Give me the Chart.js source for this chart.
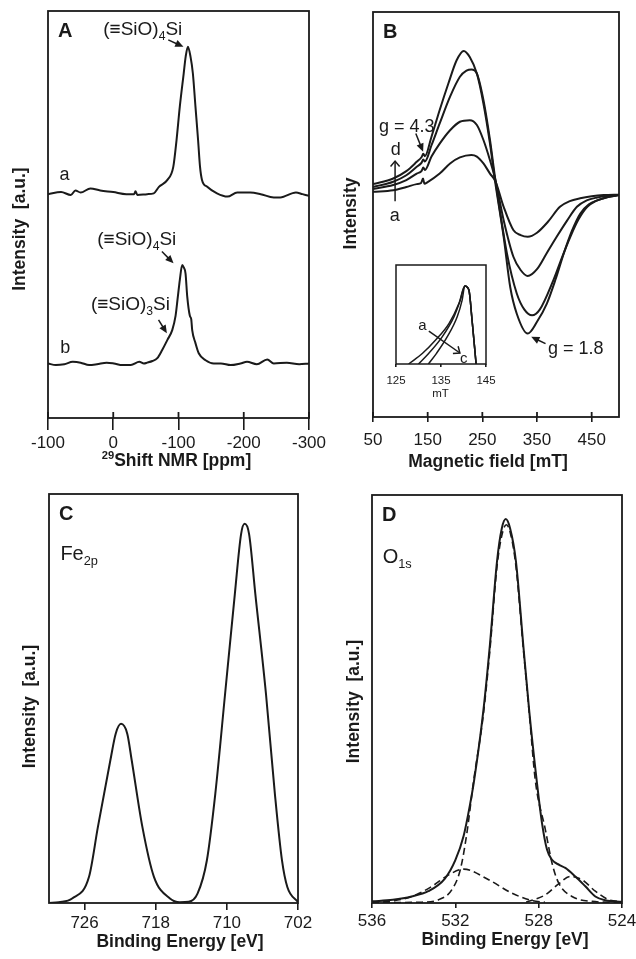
<!DOCTYPE html>
<html>
<head>
<meta charset="utf-8">
<script src="https://cdn.jsdelivr.net/npm/chart.js@4.4.1/dist/chart.umd.min.js"></script>
<style>
  html, body { margin: 0; padding: 0; background: #fff; }
  #fig { position: relative; width: 636px; height: 959px; overflow: hidden; }
  canvas { position: absolute; }
</style>
</head>
<body>
<div id="fig">
  <canvas id="pa" width="345" height="480" style="left:0;top:0"></canvas>
  <canvas id="pb" width="318" height="480" style="left:318px;top:0"></canvas>
  <canvas id="pins" width="130" height="150" style="left:380px;top:255px"></canvas>
  <canvas id="pc" width="318" height="479" style="left:0;top:480px"></canvas>
  <canvas id="pd" width="318" height="479" style="left:318px;top:480px"></canvas>
</div>
<script>
// ---- data ----
// A: 29Si NMR, two traces (a, b), shift in ppm (axis runs 100 -> -300)
const A_TICKS = [100, 0, -100, -200, -300];
const A_TICK_LABELS = ['-100', '0', '-100', '-200', '-300'];
const A_PPM_A = [100, 80, 65, 58, 50, 35, 20, 0, -20, -32, -34, -37, -52, -62, -70, -83, -92, -97, -102, -108,
  -111, -114.4, -118.4, -122, -126, -130, -133, -136, -144, -159, -175, -190, -210, -226, -246, -256, -280, -290, -300];
const A_INT_A = [55.0, 55.5, 54.8, 55.9, 55.4, 56.4, 55.9, 55.5, 55.0, 55.0, 55.7, 54.8, 55.0, 55.2, 56.8, 58.5, 61.7, 68.3, 76.5, 84.7,
  88.8, 91.2, 88.8, 84.7, 76.5, 68.3, 61.7, 58.5, 56.8, 55.2, 54.4, 55.4, 55.4, 55.0, 54.2, 54.2, 55.4, 55.0, 54.6];
const A_PPM_B = [100, 88, 75, 62, 50, 37, 25, 10, -1, -14, -27, -40, -47, -52, -60, -67.5, -75, -83, -90.4, -95.5,
  -99, -102, -105.7, -108, -110.8, -113.4, -117.4, -119.5, -121, -126, -131, -141.5, -154, -165, -180, -195, -205, -220, -236, -246,
  -266, -285, -300];
const A_INT_B = [13.4, 13.0, 13.2, 13.8, 13.6, 13.0, 13.2, 13.6, 13.4, 13.0, 13.0, 13.8, 13.4, 13.6, 14.0, 14.7, 16.7, 19.2, 21.6, 25.1,
  29.8, 33.9, 37.6, 37.0, 35.5, 29.8, 25.1, 24.3, 21.6, 18.4, 15.9, 14.2, 13.4, 13.4, 13.0, 13.4, 13.8, 13.2, 14.4, 13.4,
  13.6, 13.2, 13.4];

// B: EPR spectra a..d, magnetic field in mT
const B_TICKS = [50, 150, 250, 350, 450];
const B_FIELD_A = [50, 87, 111, 130, 138, 141.5, 144, 150, 172, 191, 209, 230, 240, 252, 264, 274, 289, 307, 320, 333, 350, 370, 392, 410, 429, 450, 472, 500];
const B_INT_A = [55.6, 56.0, 56.8, 57.5, 57.8, 58.9, 57.6, 58.0, 60.1, 62.6, 64.1, 64.7, 64.3, 62.6, 60.1, 58.2, 51.9, 46.1, 44.9, 44.5, 45.5, 48.2, 51.9, 53.3, 54.0, 54.5, 54.8, 54.9];
const B_FIELD_B = [50, 87, 111, 130, 139, 142, 145, 157, 172, 191, 209, 227, 240, 252, 264, 274, 289, 307, 320, 333, 350, 368, 386, 405, 423, 441, 460, 480, 500];
const B_INT_B = [56.3, 57.3, 58.5, 60.1, 60.8, 61.6, 61.0, 64.3, 67.5, 70.8, 72.9, 73.3, 72.1, 68.4, 63.4, 58.5, 48.6, 39.5, 36.3, 34.8, 36.5, 40.5, 44.5, 48.5, 51.9, 53.5, 54.2, 54.6, 54.8];
const B_FIELD_C = [50, 87, 111, 130, 139, 142, 145, 157, 172, 191, 209, 221, 230, 240, 252, 264, 274, 295, 313, 327, 341, 355, 380, 396, 411, 426, 442, 457, 472, 486, 500];
const B_INT_C = [56.8, 58.1, 59.7, 61.8, 62.8, 63.6, 63.1, 67.1, 72.5, 79.1, 84.0, 85.5, 85.8, 84.8, 78.3, 68.4, 58.4, 40.4, 30.5, 26.5, 25.1, 26.5, 33.8, 39.5, 44.5, 48.8, 51.9, 53.3, 54.0, 54.5, 54.8];
const B_FIELD_D = [50, 87, 111, 130, 139, 142, 145, 157, 172, 188, 203, 216, 227, 240, 252, 264, 273, 289, 301, 313, 333, 350, 368, 384, 399, 414, 429, 445, 460, 480, 500];
const B_INT_D = [57.5, 58.9, 60.7, 63.0, 64.2, 65.0, 64.4, 69.2, 75.8, 82.4, 88.1, 90.4, 88.9, 84.8, 77.4, 67.5, 58.5, 44.5, 32.1, 25.5, 20.6, 23.5, 28.0, 34.0, 40.4, 46.0, 50.2, 52.5, 53.5, 54.3, 54.8];

// B inset: zoom on the g = 4.3 line
const INSET_TICKS = [125, 135, 145];
const INSET_FIELD_A = [127.8, 130.9, 133.8, 136.8, 139.0, 140.3, 141.2, 141.9, 142.8];
const INSET_INT_A = [0, 10.8, 24.2, 41.1, 61.3, 78.8, 74.7, 44.4, 0];
const INSET_FIELD_B = [130.0, 132.3, 135.3, 137.9, 139.3, 140.3, 141.2, 141.9, 142.8];
const INSET_INT_B = [0, 10.8, 27.6, 47.8, 64.6, 78.8, 74.7, 44.4, 0];
const INSET_FIELD_C = [132.2, 134.0, 136.4, 138.6, 139.7, 140.3, 141.2, 141.9, 142.8];
const INSET_INT_C = [0, 10.8, 27.6, 47.8, 64.6, 78.8, 74.7, 44.4, 0];

// C: XPS Fe 2p, binding energy in eV
const C_TICKS = [726, 718, 710, 702];
const C_BE = [730, 728.9, 727.4, 725.5, 724.5, 723.1, 722.5, 721.9, 721.2, 720.7, 719.5, 718.2, 716.4, 715.3, 714.3,
  713.3, 712.25, 711.3, 710.2, 709.1, 708.4, 708.0, 707.5, 706.8, 705.6, 704.6, 703.8, 703.2, 702];
const C_INT = [0, 0.2, 1.1, 6.4, 18.6, 34.9, 41.4, 43.8, 41.4, 34.9, 18.6, 6.4, 1.1, 0.2, 0.3,
  2.3, 10.4, 26.7, 51.1, 75.6, 90.2, 92.7, 90.2, 75.6, 51.1, 26.7, 10.4, 3.9, 0.2];

// D: XPS O 1s, envelope + three fitted components
const D_TICKS = [536, 532, 528, 524];
const D_BE = [536.0, 535.0, 534.1, 533.3, 532.5, 532.0, 531.6, 531.3, 531.1, 530.66, 530.34, 530.0, 529.77, 529.58, 529.37,
  529.09, 528.74, 528.45, 528.09, 527.84, 527.6, 527.36, 527.0, 526.72, 526.24, 525.76, 525.28, 524.8, 524.0];
const D_INT = [0.4, 0.8, 1.6, 2.9, 6.0, 10.5, 16.5, 24.0, 30.0, 46.9, 63.3, 83.7, 91.8, 94.1, 91.8,
  83.7, 63.3, 46.9, 29.8, 19.6, 13.1, 10.6, 9.3, 8.6, 6.5, 4.1, 1.6, 0.65, 0.3];
const D_MAIN_BE = [536.0, 533.6, 532.8, 532.16, 531.76, 531.45, 531.12, 530.66, 530.34, 530.0, 529.75, 529.55,
  529.35, 529.09, 528.74, 528.45, 528.16, 527.68, 527.36, 527.04, 526.4, 525.44, 524.0];
const D_MAIN_INT = [0.1, 0.2, 0.8, 3.3, 8.2, 17.0, 30.0, 46.0, 62.0, 82.5, 90.5, 92.7,
  90.5, 82.5, 62.5, 46.5, 30.0, 18.0, 9.8, 4.9, 1.6, 0.4, 0.1];
const D_LOW_BE = [536.0, 535.2, 534.08, 533.12, 532.32, 531.6, 530.4, 529.28, 528.32, 527.7];
const D_LOW_INT = [0.1, 0.4, 1.6, 4.1, 6.9, 8.3, 5.7, 2.4, 0.6, 0.2];
const D_HIGH_BE = [528.6, 528.32, 527.68, 527.04, 526.48, 525.92, 525.28, 524.64, 524.0];
const D_HIGH_INT = [0.2, 0.65, 2.0, 4.7, 6.5, 5.7, 2.9, 0.8, 0.3];

// ---- drawing ----
const INK = '#1a1a1a';
const FONT = '"Liberation Sans", Arial, sans-serif';

const pts = (xs, ys) => xs.map((x, i) => ({x, y: ys[i]}));
const line = (xs, ys, extra) => Object.assign({data: pts(xs, ys)}, extra || {});

// text with sub/superscript pieces: parts = [[text, ''|'sub'|'sup'], ...]
function drawRich(ctx, parts, x, y, size, weight, align) {
  const seg = parts.map(([t, k]) => {
    const s = k ? size * 0.64 : size;
    ctx.font = `${weight} ${s}px ${FONT}`;
    return {t, k, s, w: ctx.measureText(t).width};
  });
  const total = seg.reduce((n, p) => n + p.w, 0);
  let cx = align === 'center' ? x - total / 2 : x;
  ctx.textAlign = 'left';
  ctx.textBaseline = 'alphabetic';
  seg.forEach(p => {
    ctx.font = `${weight} ${p.s}px ${FONT}`;
    const dy = p.k === 'sub' ? size * 0.24 : p.k === 'sup' ? -size * 0.38 : 0;
    ctx.fillText(p.t, cx, y + dy);
    cx += p.w;
  });
}

function arrow(ctx, x1, y1, x2, y2, open) {
  const ang = Math.atan2(y2 - y1, x2 - x1);
  const L = open ? 7 : 9, W = open ? 0.7 : 0.42;
  ctx.beginPath();
  ctx.moveTo(x1, y1);
  ctx.lineTo(open ? x2 : x2 - Math.cos(ang) * L * 0.7, open ? y2 : y2 - Math.sin(ang) * L * 0.7);
  ctx.stroke();
  ctx.beginPath();
  ctx.moveTo(x2 - L * Math.cos(ang - W), y2 - L * Math.sin(ang - W));
  ctx.lineTo(x2, y2);
  ctx.lineTo(x2 - L * Math.cos(ang + W), y2 - L * Math.sin(ang + W));
  if (open) ctx.stroke(); else { ctx.closePath(); ctx.fill(); }
}

const decor = {
  id: 'decor',
  beforeDraw(chart, args, o) {
    if (!o.white) return;
    const a = chart.chartArea, ctx = chart.ctx;
    ctx.save();
    ctx.fillStyle = '#fff';
    ctx.fillRect(a.left, a.top, a.right - a.left, a.bottom - a.top);
    ctx.restore();
  },
  afterDraw(chart, args, o) {
    const ctx = chart.ctx, a = chart.chartArea, xs = chart.scales.x, ys = chart.scales.y;
    ctx.save();
    ctx.strokeStyle = INK;
    ctx.fillStyle = INK;
    ctx.lineWidth = o.frame || 1.8;
    ctx.strokeRect(a.left, a.top, a.right - a.left, a.bottom - a.top);
    if (o.innerTick) {
      xs.ticks.forEach(t => {
        const px = xs.getPixelForValue(t.value);
        ctx.beginPath();
        ctx.moveTo(px, a.bottom);
        ctx.lineTo(px, a.bottom - o.innerTick);
        ctx.stroke();
      });
    }
    if (o.letter) {
      ctx.font = `bold 20px ${FONT}`;
      ctx.textAlign = 'left';
      ctx.textBaseline = 'alphabetic';
      ctx.fillText(o.letter, a.left + 10, a.top + 26);
    }
    if (o.tag) drawRich(ctx, o.tag.parts, a.left + o.tag.dx, a.top + o.tag.dy, 20, 'normal', 'left');
    (o.labels || []).forEach(l =>
      drawRich(ctx, l.parts, xs.getPixelForValue(l.x), ys.getPixelForValue(l.y), l.size || 18, 'normal', 'left'));
    ctx.lineWidth = 1.5;
    (o.arrows || []).forEach(r =>
      arrow(ctx, xs.getPixelForValue(r.x1), ys.getPixelForValue(r.y1),
        xs.getPixelForValue(r.x2), ys.getPixelForValue(r.y2), r.open));
    if (o.xTitle) {
      drawRich(ctx, o.xTitle.parts, (a.left + a.right) / 2 + (o.xTitle.dx || 0), o.xTitle.y,
        o.xTitle.size || 17.5, o.xTitle.weight || 'bold', 'center');
    }
    if (o.yTitle) {
      ctx.translate(o.yTitle.x, (a.top + a.bottom) / 2 + (o.yTitle.dy || 0));
      ctx.rotate(-Math.PI / 2);
      ctx.font = `bold 17.5px ${FONT}`;
      ctx.textAlign = 'center';
      ctx.textBaseline = 'middle';
      ctx.fillText(o.yTitle.text, 0, 0);
    }
    ctx.restore();
  }
};

function panel(id, cfg) {
  const cv = document.getElementById(id);
  return new Chart(cv, {
    type: 'line',
    data: {datasets: cfg.datasets},
    options: {
      animation: false,
      responsive: false,
      devicePixelRatio: 1,
      layout: {padding: {left: 0, top: cfg.area.top, right: cv.width - cfg.area.right, bottom: 0}},
      elements: {
        point: {radius: 0},
        line: {borderWidth: cfg.lineWidth || 2, borderColor: INK, cubicInterpolationMode: 'monotone', fill: false}
      },
      plugins: {legend: {display: false}, tooltip: {enabled: false}, decor: cfg.decor},
      scales: {
        x: {
          type: 'linear', min: cfg.xMin, max: cfg.xMax, reverse: !!cfg.reverse,
          afterBuildTicks: s => { s.ticks = cfg.ticks.map(v => ({value: v})); },
          afterFit: s => { s.height = cv.height - cfg.area.bottom; s.paddingLeft = 0; s.paddingRight = 0; },
          grid: {drawOnChartArea: false, tickLength: cfg.tickLen, color: INK, lineWidth: 1.6},
          border: {display: false},
          ticks: {
            autoSkip: false, maxRotation: 0, minRotation: 0, padding: cfg.tickPad, color: INK,
            font: {family: FONT, size: cfg.tickSize || 17, weight: cfg.tickWeight || 'normal'},
            callback: (v, i) => cfg.tickLabels ? cfg.tickLabels[i] : String(v)
          }
        },
        y: {
          min: 0, max: 100,
          afterFit: s => { s.width = cfg.area.left; },
          ticks: {display: false}, grid: {display: false}, border: {display: false}
        }
      }
    },
    plugins: [decor]
  });
}

const SIO = n => [['(\u2261SiO)', ''], [n, 'sub'], ['Si', '']];

panel('pa', {
  area: {left: 48, top: 11, right: 309, bottom: 418},
  xMin: -300, xMax: 100, reverse: true,
  ticks: A_TICKS, tickLabels: A_TICK_LABELS, tickLen: 12, tickPad: 3,
  datasets: [line(A_PPM_A, A_INT_A), line(A_PPM_B, A_INT_B)],
  decor: {
    letter: 'A', innerTick: 6,
    labels: [
      {x: 15.3, y: 94.1, parts: SIO('4'), size: 19},
      {x: 24.5, y: 42.5, parts: SIO('4'), size: 19},
      {x: 34.2, y: 26.5, parts: SIO('3'), size: 19},
      {x: 82.2, y: 58.5, parts: [['a', '']]},
      {x: 81.2, y: 15.9, parts: [['b', '']]}
    ],
    arrows: [
      {x1: -84.3, y1: 92.9, x2: -107.6, y2: 91.2},
      {x1: -74.6, y1: 40.9, x2: -92.4, y2: 38.0},
      {x1: -69.4, y1: 24.1, x2: -82.2, y2: 20.8}
    ],
    xTitle: {parts: [['29', 'sup'], ['Shift NMR [ppm]', '']], y: 466, dx: -2},
    yTitle: {text: 'Intensity  [a.u.]', x: 20, dy: 14.6}
  }
});

panel('pb', {
  area: {left: 55, top: 12, right: 301, bottom: 417},
  xMin: 50, xMax: 500,
  ticks: B_TICKS, tickLen: 5, tickPad: 8,
  datasets: [line(B_FIELD_A, B_INT_A), line(B_FIELD_B, B_INT_B), line(B_FIELD_C, B_INT_C), line(B_FIELD_D, B_INT_D)],
  decor: {
    letter: 'B', innerTick: 5,
    labels: [
      {x: 61, y: 70.4, parts: [['g = 4.3', '']]},
      {x: 82.5, y: 64.7, parts: [['d', '']]},
      {x: 80.6, y: 48.4, parts: [['a', '']]},
      {x: 370, y: 15.5, parts: [['g = 1.8', '']]}
    ],
    arrows: [
      {x1: 128.3, y1: 70.0, x2: 141.7, y2: 65.5},
      {x1: 90.4, y1: 53.3, x2: 90.4, y2: 63.2, open: true},
      {x1: 365.6, y1: 18.1, x2: 339.4, y2: 19.8}
    ],
    xTitle: {parts: [['Magnetic field [mT]', '']], y: 466.7, dx: -8},
    yTitle: {text: 'Intensity', x: 33, dy: -1}
  }
});

panel('pins', {
  area: {left: 16, top: 10, right: 106, bottom: 109},
  xMin: 125, xMax: 145,
  ticks: INSET_TICKS, tickLen: 3, tickPad: 7, tickSize: 11.5, lineWidth: 1.5,
  datasets: [line(INSET_FIELD_A, INSET_INT_A), line(INSET_FIELD_B, INSET_INT_B), line(INSET_FIELD_C, INSET_INT_C)],
  decor: {
    white: true, frame: 1.5,
    labels: [
      {x: 129.96, y: 34.3, parts: [['a', '']], size: 15},
      {x: 139.2, y: 0.7, parts: [['c', '']], size: 15}
    ],
    arrows: [{x1: 132.3, y1: 33.3, x2: 139.2, y2: 11.1, open: true}],
    xTitle: {parts: [['mT', '']], y: 141.5, dx: -0.5, size: 11.5, weight: 'normal'}
  }
});

panel('pc', {
  area: {left: 49, top: 14, right: 298, bottom: 423},
  xMin: 702, xMax: 730, reverse: true,
  ticks: C_TICKS, tickLen: 7, tickPad: 3,
  datasets: [line(C_BE, C_INT)],
  decor: {
    letter: 'C',
    tag: {parts: [['Fe', ''], ['2p', 'sub']], dx: 11.4, dy: 66},
    xTitle: {parts: [['Binding Energy [eV]', '']], y: 466.7, dx: 6.5},
    yTitle: {text: 'Intensity  [a.u.]', x: 30, dy: 8}
  }
});

panel('pd', {
  area: {left: 54, top: 15, right: 304, bottom: 423},
  xMin: 524, xMax: 536, reverse: true,
  ticks: D_TICKS, tickLen: 5, tickPad: 3,
  datasets: [
    line(D_BE, D_INT),
    line(D_MAIN_BE, D_MAIN_INT, {borderDash: [7, 4], borderWidth: 1.6}),
    line(D_LOW_BE, D_LOW_INT, {borderDash: [7, 4], borderWidth: 1.6}),
    line(D_HIGH_BE, D_HIGH_INT, {borderDash: [7, 4], borderWidth: 1.6})
  ],
  decor: {
    letter: 'D',
    tag: {parts: [['O', ''], ['1s', 'sub']], dx: 10.7, dy: 68.3},
    xTitle: {parts: [['Binding Energy [eV]', '']], y: 465, dx: 8},
    yTitle: {text: 'Intensity  [a.u.]', x: 36.3, dy: 2.5}
  }
});
</script>
</body>
</html>
